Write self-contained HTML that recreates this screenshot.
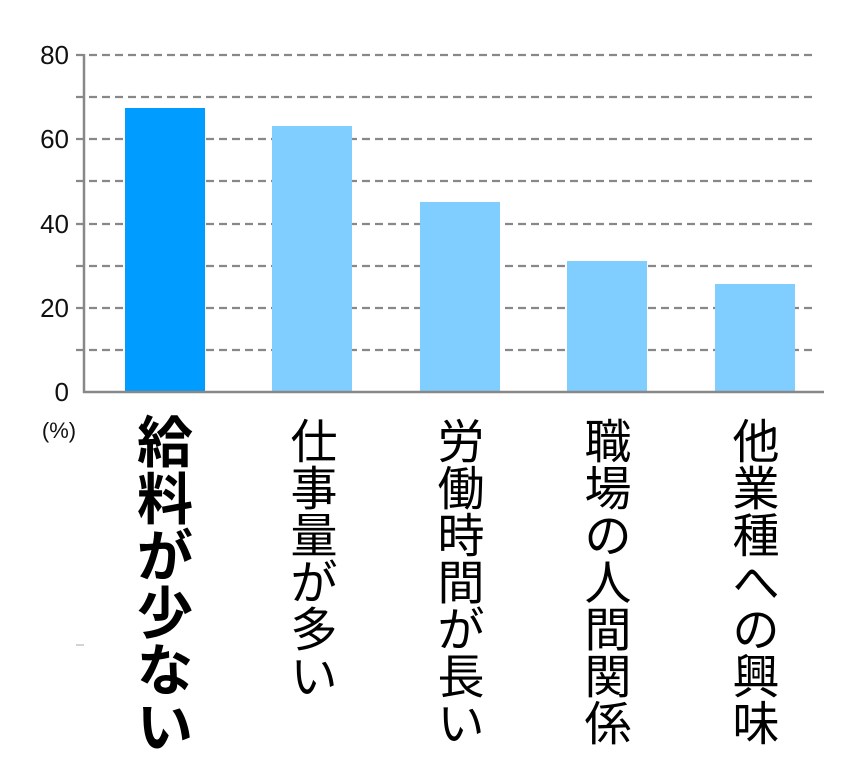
<!DOCTYPE html>
<html><head><meta charset="utf-8"><style>
body{margin:0;background:#fff;}
svg{display:block}
text{font-family:"Liberation Sans","Noto Sans CJK JP",sans-serif;}
</style></head><body>
<svg width="860" height="778" viewBox="0 0 860 778">
<g stroke="#888" stroke-width="2.2" stroke-dasharray="8,5">
<line x1="76" y1="55" x2="815" y2="55"/>
<line x1="76" y1="97" x2="815" y2="97"/>
<line x1="76" y1="139" x2="815" y2="139"/>
<line x1="76" y1="181" x2="815" y2="181"/>
<line x1="76" y1="224" x2="815" y2="224"/>
<line x1="76" y1="266" x2="815" y2="266"/>
<line x1="76" y1="308" x2="815" y2="308"/>
<line x1="76" y1="350" x2="815" y2="350"/>
</g>
<rect x="125" y="108" width="80" height="284" fill="#009cff"/>
<rect x="272" y="126" width="80" height="266" fill="#80ceff"/>
<rect x="420" y="202" width="80" height="190" fill="#80ceff"/>
<rect x="567" y="261" width="80" height="131" fill="#80ceff"/>
<rect x="715" y="284" width="80" height="108" fill="#80ceff"/>
<line x1="84" y1="54" x2="84" y2="393" stroke="#888" stroke-width="2.5"/>
<line x1="83" y1="392" x2="824" y2="392" stroke="#888" stroke-width="2.5"/>
<line x1="76" y1="645" x2="84" y2="645" stroke="#aaa" stroke-width="1"/>
<g font-size="26" fill="#111" text-anchor="end">
<text x="69" y="64">80</text>
<text x="69" y="148">60</text>
<text x="69" y="233">40</text>
<text x="69" y="317">20</text>
<text x="69" y="401">0</text>
</g>
<text x="59" y="438" font-size="22" text-anchor="middle" fill="#111">(%)</text>
<g font-size="56" font-weight="bold" text-anchor="middle" dominant-baseline="central" fill="#000">
<text x="165" y="443">給</text><text x="165" y="500">料</text><text x="165" y="557">が</text><text x="165" y="614">少</text><text x="165" y="671">な</text><text x="165" y="728">い</text>
</g>
<g font-size="47" text-anchor="middle" dominant-baseline="central" fill="#000">
<text x="314" y="442">仕</text><text x="314" y="489">事</text><text x="314" y="536">量</text><text x="314" y="583">が</text><text x="314" y="630">多</text><text x="314" y="677">い</text>
<text x="461" y="442">労</text><text x="461" y="489">働</text><text x="461" y="536">時</text><text x="461" y="583">間</text><text x="461" y="630">が</text><text x="461" y="677">長</text><text x="461" y="724">い</text>
<text x="608" y="442">職</text><text x="608" y="489">場</text><text x="608" y="536">の</text><text x="608" y="583">人</text><text x="608" y="630">間</text><text x="608" y="677">関</text><text x="608" y="724">係</text>
<text x="756" y="442">他</text><text x="756" y="489">業</text><text x="756" y="536">種</text><text x="756" y="583">へ</text><text x="756" y="630">の</text><text x="756" y="677">興</text><text x="756" y="724">味</text>
</g>
</svg>
</body></html>
